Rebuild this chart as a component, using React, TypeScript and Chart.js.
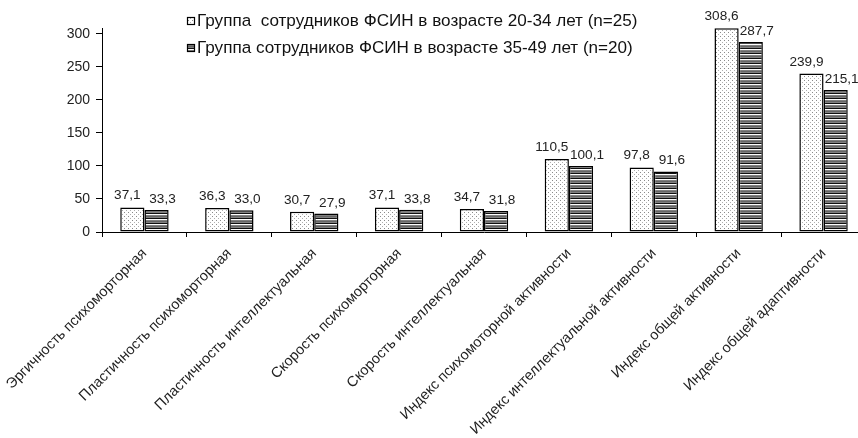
import React, { useEffect, useRef } from "react";
import { Chart, registerables } from "chart.js";

Chart.register(...registerables);

const categories = [
  "Эргичность психоморторная",
  "Пластичность психоморторная",
  "Пластичность интеллектуальная",
  "Скорость психоморторная",
  "Скорость интеллектуальная",
  "Индекс психомоторной активности",
  "Индекс интеллектуальной активности",
  "Индекс общей активности",
  "Индекс общей адаптивности",
];

const seriesNames = [
  "Группа  сотрудников ФСИН в возрасте 20-34 лет (n=25)",
  "Группа сотрудников ФСИН в возрасте 35-49 лет (n=20)",
];

const group2034 = [37.1, 36.3, 30.7, 37.1, 34.7, 110.5, 97.8, 308.6, 239.9];
const group3549 = [33.3, 33.0, 27.9, 33.8, 31.8, 100.1, 91.6, 287.7, 215.1];

const yTicks = [0, 50, 100, 150, 200, 250, 300];

const FONT = "Arial, 'Liberation Sans', sans-serif";

function makeDotPattern(ctx: CanvasRenderingContext2D): CanvasPattern | string {
  const c = document.createElement("canvas");
  c.width = 4;
  c.height = 4;
  const g = c.getContext("2d");
  if (!g) return "#fff";
  g.fillStyle = "#ffffff";
  g.fillRect(0, 0, 4, 4);
  g.fillStyle = "#8a8a8a";
  g.fillRect(0, 0, 1, 1);
  g.fillStyle = "#b0b0b0";
  g.fillRect(2, 2, 1, 1);
  return ctx.createPattern(c, "repeat") || "#fff";
}

function makeStripePattern(ctx: CanvasRenderingContext2D): CanvasPattern | string {
  const c = document.createElement("canvas");
  c.width = 4;
  c.height = 5;
  const g = c.getContext("2d");
  if (!g) return "#777";
  g.fillStyle = "#808080";
  g.fillRect(0, 0, 4, 5);
  g.fillStyle = "#666666";
  g.fillRect(0, 1, 4, 1);
  g.fillStyle = "#111111";
  g.fillRect(0, 3, 4, 1);
  g.fillStyle = "#ffffff";
  g.fillRect(0, 4, 4, 1);
  return ctx.createPattern(c, "repeat") || "#777";
}

const fmt = (v: number) => v.toFixed(1).replace(".", ",");

const CANVAS_W = 866;
const CANVAS_H = 438;

export default function App() {
  const ref = useRef<HTMLCanvasElement | null>(null);

  useEffect(() => {
    const canvas = ref.current;
    if (!canvas) return;
    const ctx = canvas.getContext("2d");
    if (!ctx) return;
    const dots = makeDotPattern(ctx);
    const stripes = makeStripePattern(ctx);
    const fills = [dots, stripes];

    const labelPlugin = {
      id: "valueLabels",
      afterDatasetsDraw(chart: any) {
        const c = chart.ctx;
        c.save();
        c.font = `13.6px ${FONT}`;
        c.fillStyle = "#222";
        c.textAlign = "center";
        c.textBaseline = "bottom";
        chart.data.datasets.forEach((ds: any, di: number) => {
          const meta = chart.getDatasetMeta(di);
          meta.data.forEach((el: any, i: number) => {
            const dx = di === 0 ? -5 : 6;
            const dy = di === 0 ? 5 : 4;
            c.fillText(fmt(ds.data[i]), el.x + dx, el.y - dy);
          });
        });
        c.restore();
      },
    };

    const legendPlugin = {
      id: "customLegend",
      afterDraw(chart: any) {
        const c = chart.ctx;
        c.save();
        c.font = `17.1px ${FONT}`;
        c.fillStyle = "#111";
        c.textBaseline = "middle";
        c.textAlign = "left";
        const x0 = 187;
        const rows = [21, 48];
        seriesNames.forEach((name, i) => {
          const y = rows[i];
          c.fillStyle = fills[i];
          c.fillRect(x0, y - 4, 8, 8);
          c.strokeStyle = "#000";
          c.lineWidth = 1.2;
          c.strokeRect(x0 + 0.5, y - 3.5, 7, 7);
          c.fillStyle = "#111";
          c.fillText(name, x0 + 10, y + 0.5);
        });
        c.restore();
      },
    };

    const chart = new Chart(ctx, {
      type: "bar",
      data: {
        labels: categories,
        datasets: [
          {
            label: seriesNames[0],
            data: group2034,
            backgroundColor: dots as any,
            borderColor: "#000",
            borderWidth: 1.5,
            borderSkipped: false,
            barPercentage: 1,
            categoryPercentage: 0.57,
          },
          {
            label: seriesNames[1],
            data: group3549,
            backgroundColor: stripes as any,
            borderColor: "#000",
            borderWidth: 1.5,
            borderSkipped: false,
            barPercentage: 1,
            categoryPercentage: 0.57,
          },
        ],
      },
      options: {
        responsive: false,
        animation: false,
        layout: { padding: { top: 28, right: 0, left: 0, bottom: 0 } },
        plugins: {
          legend: { display: false },
          tooltip: { enabled: false },
        },
        scales: {
          x: {
            grid: {
              display: true,
              drawOnChartArea: false,
              drawTicks: true,
              tickLength: 5,
              color: "#000",
              offset: true,
            },
            border: { display: true, color: "#000", width: 1 },
            ticks: {
              minRotation: 45,
              maxRotation: 45,
              autoSkip: false,
              color: "#222",
              font: { family: FONT, size: 14.5 },
              padding: 8,
            },
            afterFit(scale: any) {
              scale.height = 206;
              scale.paddingLeft = 0;
              scale.paddingRight = 0;
            },
          },
          y: {
            min: 0,
            max: 309,
            grid: {
              display: true,
              drawOnChartArea: false,
              drawTicks: true,
              tickLength: 6,
              color: "#000",
            },
            border: { display: true, color: "#000", width: 1 },
            ticks: {
              stepSize: 50,
              color: "#222",
              font: { family: FONT, size: 14 },
              padding: 6,
            },
            afterBuildTicks(scale: any) {
              scale.ticks = yTicks.map((v) => ({ value: v }));
            },
            afterFit(scale: any) {
              scale.width = 102;
            },
          },
        },
      },
      plugins: [labelPlugin, legendPlugin],
    });

    return () => chart.destroy();
  }, []);

  return (
    <div
      style={{
        position: "fixed",
        left: 0,
        top: 0,
        width: 858,
        height: 438,
        overflow: "hidden",
        background: "#fff",
      }}
    >
      <canvas
        ref={ref}
        width={CANVAS_W}
        height={CANVAS_H}
        style={{ width: CANVAS_W, height: CANVAS_H, display: "block" }}
      />
    </div>
  );
}
